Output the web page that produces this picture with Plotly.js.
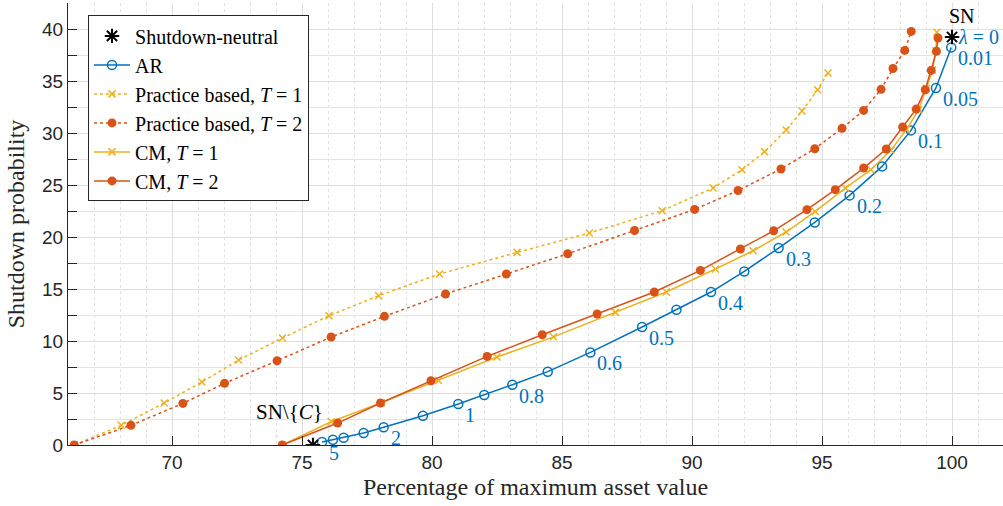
<!DOCTYPE html>
<html><head><meta charset="utf-8">
<script src="https://cdn.plot.ly/plotly-3.0.1.min.js"></script>
<style>html,body{margin:0;padding:0;background:#fff}#chart{width:1003px;height:506px}</style>
</head><body><div id="chart"></div>
<script>
// ---- data ----
const arX = [75.77,76.19,76.60,77.37,78.14,79.65,81.01,82.01,83.09,84.45,86.09,88.08,89.40,90.73,92.01,93.33,94.72,96.06,97.31,98.42,99.38,99.97];
const arY = [0.29,0.51,0.70,1.15,1.70,2.82,3.94,4.80,5.80,7.05,8.90,11.35,13.00,14.71,16.69,18.94,21.40,24.00,26.79,30.25,34.33,38.23];

const pb1X = [66.24,68.05,69.70,71.15,72.56,74.25,76.04,77.95,80.29,83.27,86.05,88.85,90.81,91.92,92.79,93.62,94.23,94.83,95.23];
const pb1Y = [0.00,1.89,4.04,6.06,8.17,10.29,12.43,14.36,16.44,18.52,20.38,22.53,24.71,26.47,28.20,30.29,32.11,34.16,35.77];

const pb2X = [66.24,68.42,70.42,72.02,74.04,76.12,78.17,80.52,82.86,85.22,87.79,90.10,91.77,93.42,94.72,95.77,96.60,97.27,97.73,98.18,98.43];
const pb2Y = [0.00,1.89,4.00,5.93,8.10,10.38,12.37,14.52,16.44,18.39,20.63,22.65,24.47,26.54,28.49,30.45,32.17,34.20,36.20,37.94,39.77];

const cm1X = [74.24,76.12,78.05,80.25,82.50,84.67,87.05,89.01,90.90,92.35,93.62,94.74,95.90,96.88,97.65,98.25,98.72,99.02,99.25,99.38,99.42];
const cm1Y = [0.00,2.24,4.07,6.21,8.46,10.40,12.75,14.71,16.92,18.68,20.48,22.46,24.70,26.47,28.35,30.35,32.25,34.30,36.05,37.90,39.68];

const cm2X = [74.24,76.37,78.02,79.96,82.12,84.24,86.35,88.55,90.32,91.86,93.14,94.42,95.51,96.60,97.47,98.10,98.62,98.97,99.20,99.40,99.46];
const cm2Y = [0.00,2.11,4.04,6.18,8.52,10.60,12.60,14.71,16.79,18.85,20.60,22.63,24.55,26.63,28.46,30.58,32.30,34.16,36.02,37.85,39.13];

const snX = [100.00, 75.42];
const snY = [39.23, 0.00];
const snLabels = ['SN', 'SN\\{<i>C</i>}'];

const lambdaLabels = ['5','2','1','0.8','0.6','0.5','0.4','0.3','0.2','0.1','0.05','0.01'];
const lambdaIndex  = [0,4,6,8,10,11,13,15,17,19,20,21];

const xTicks = [70,75,80,85,90,95,100];
const yTicks = [0,5,10,15,20,25,30,35,40];

// ---- styles ----
const BLUE = '#0072BD', RED = '#D95319', YEL = '#EDB120', AX = '#262626';
const SERIF = '"Liberation Serif", "DejaVu Serif", serif';
const SANS = '"Liberation Sans", Arial, sans-serif';

const traces = [
  {x: arX, y: arY, name: 'AR', mode: 'lines+markers', legendrank: 2,
   line: {color: BLUE, width: 1.5},
   marker: {symbol: 'circle-open', size: 9, color: BLUE, line: {width: 1.5, color: BLUE}}},
  {x: pb1X, y: pb1Y, name: 'Practice based, <i>T</i> = 1', mode: 'lines+markers', legendrank: 3,
   line: {color: YEL, width: 1.5, dash: 'dot'},
   marker: {symbol: 'x-thin', size: 7, color: YEL, line: {width: 1.5, color: YEL}}},
  {x: pb2X, y: pb2Y, name: 'Practice based, <i>T</i> = 2', mode: 'lines+markers', legendrank: 4,
   line: {color: RED, width: 1.5, dash: 'dot'},
   marker: {symbol: 'circle', size: 9, color: RED}},
  {x: cm1X, y: cm1Y, name: 'CM, <i>T</i> = 1', mode: 'lines+markers', legendrank: 5,
   line: {color: YEL, width: 1.5},
   marker: {symbol: 'x-thin', size: 7, color: YEL, line: {width: 1.5, color: YEL}}},
  {x: cm2X, y: cm2Y, name: 'CM, <i>T</i> = 2', mode: 'lines+markers', legendrank: 6,
   line: {color: RED, width: 1.5},
   marker: {symbol: 'circle', size: 9, color: RED}},
  {x: snX, y: snY, name: 'Shutdown-neutral', mode: 'markers', legendrank: 1,
   marker: {symbol: 'asterisk-open', size: 12, color: '#000', line: {width: 2, color: '#000'}}}
];

const annotations = [];
lambdaIndex.forEach((idx, k) => {
  annotations.push({x: arX[idx], y: arY[idx], text: lambdaLabels[k], showarrow: false,
    xanchor: 'left', yanchor: 'top', xshift: 5, yshift: 2,
    font: {family: SERIF, size: 20, color: BLUE}});
});
annotations.push({x: snX[0], y: snY[0], text: '<i>λ</i> = 0', showarrow: false,
  xanchor: 'left', yanchor: 'middle', xshift: 4, yshift: 0,
  font: {family: SERIF, size: 20, color: BLUE}});
annotations.push({x: snX[0], y: snY[0], text: snLabels[0], showarrow: false,
  xanchor: 'left', yanchor: 'bottom', xshift: -5, yshift: 8,
  font: {family: SERIF, size: 20, color: '#000'}});
annotations.push({x: snX[1], y: snY[1], text: snLabels[1], showarrow: false,
  xanchor: 'right', yanchor: 'bottom', xshift: 12, yshift: 19,
  font: {family: SERIF, size: 21, color: '#000'}});

const layout = {
  width: 1003, height: 506,
  margin: {l: 68, r: 0, t: 3, b: 61},
  paper_bgcolor: '#fff', plot_bgcolor: '#fff',
  font: {family: SERIF},
  showlegend: true,
  legend: {x: 0.0214, y: 0.972, xanchor: 'left', yanchor: 'top',
    bgcolor: '#fff', bordercolor: AX, borderwidth: 1,
    font: {family: SERIF, size: 20, color: '#000'}, tracegroupgap: 0, itemwidth: 36},
  xaxis: {range: [66, 101.96], tickvals: xTicks, ticks: 'inside', ticklen: 9, tickcolor: AX,
    showline: true, linecolor: AX, linewidth: 1, zeroline: false,
    showgrid: true, gridcolor: '#dedede', gridwidth: 1,
    tickfont: {family: SANS, size: 19, color: AX},
    minor: {dtick: 1, showgrid: true, gridcolor: '#e2e2e2', griddash: 'dot', ticks: ''},
    title: {text: 'Percentage of maximum asset value', font: {family: SERIF, size: 24, color: AX}, standoff: 6}},
  yaxis: {range: [0, 42.5], tickvals: yTicks, ticks: 'inside', ticklen: 9, tickcolor: AX,
    showline: true, linecolor: AX, linewidth: 1, zeroline: false,
    showgrid: true, gridcolor: '#dedede', gridwidth: 1,
    tickfont: {family: SANS, size: 19, color: AX},
    minor: {dtick: 2.5, tick0: 0, showgrid: true, gridcolor: '#e4e4e4', ticks: 'inside', ticklen: 9, tickcolor: AX},
    title: {text: 'Shutdown probability', font: {family: SERIF, size: 24, color: AX}, standoff: 10}},
  annotations: annotations
};

Plotly.newPlot('chart', traces, layout, {displayModeBar: false, staticPlot: true});
</script>
</body></html>
